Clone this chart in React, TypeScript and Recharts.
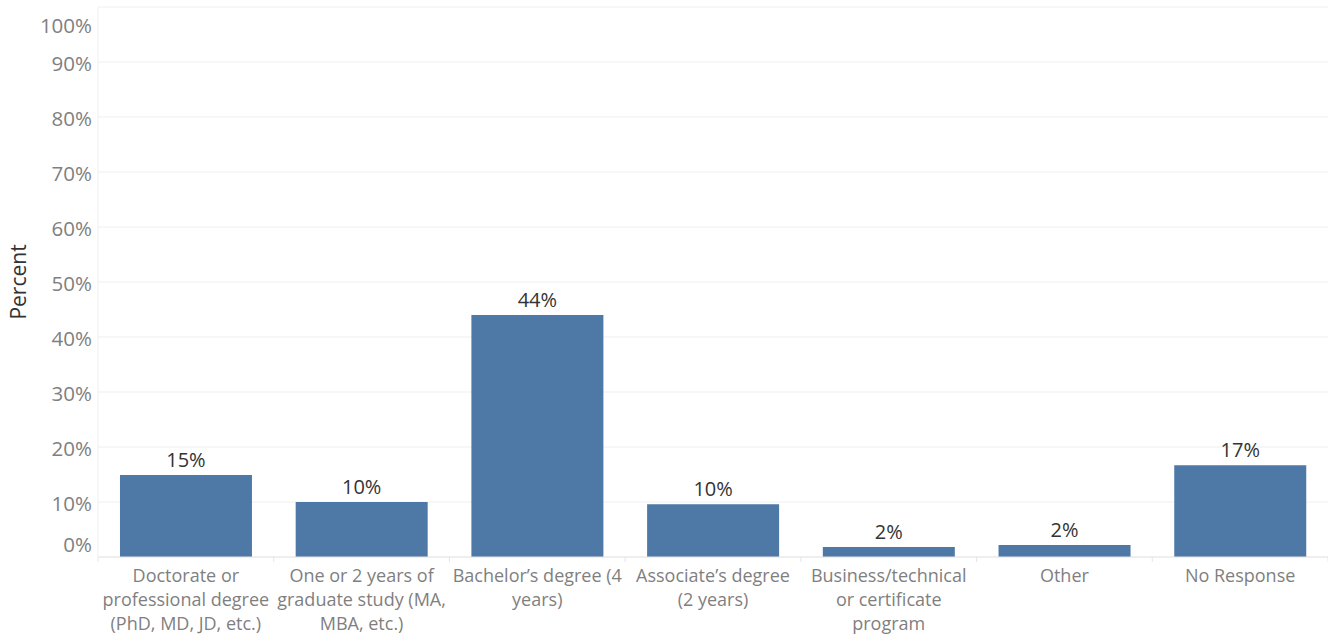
import React from 'react';
import { BarChart, Bar, XAxis, YAxis, CartesianGrid, LabelList } from 'recharts';

// categories (line breaks as in the original axis)
const CATEGORIES = [
  'Doctorate or\nprofessional degree\n(PhD, MD, JD, etc.)',
  'One or 2 years of\ngraduate study (MA,\nMBA, etc.)',
  'Bachelor\u2019s degree (4\nyears)',
  'Associate\u2019s degree\n(2 years)',
  'Business/technical\nor certificate\nprogram',
  'Other',
  'No Response',
];
const PERCENTS = [14.9, 10.0, 44.0, 9.6, 1.8, 2.2, 16.7];
const Y_TICKS = [0, 10, 20, 30, 40, 50, 60, 70, 80, 90, 100];

const data = CATEGORIES.map((name, i) => ({ name, value: PERCENTS[i] }));

const FONT = '"Open Sans", "Noto Sans", sans-serif';

const XTick = (props: any) => {
  const { x, y, payload } = props;
  const lines: string[] = String(payload.value).split('\n');
  const half = payload.offset || 0;
  const top = y - 8;
  return (
    <g>
      <line x1={x - half} x2={x - half} y1={top} y2={top + 5} stroke="#e6e6e6" />
      {props.index === CATEGORIES.length - 1 && (
        <line x1={x + half} x2={x + half} y1={top} y2={top + 5} stroke="#e6e6e6" />
      )}
      <text x={x} y={top + 25} textAnchor="middle" fill="#7f7f7f" fontSize={18} fontFamily={FONT}>
        {lines.map((l, i) => (
          <tspan key={i} x={x} y={top + 25 + i * 24}>
            {l}
          </tspan>
        ))}
      </text>
    </g>
  );
};

const YTick = (props: any) => {
  const { x, y, payload } = props;
  let shift = 2;
  if (payload.value === 100) shift = 17;
  if (payload.value === 0) shift = -12;
  return (
    <text x={x} y={y + shift} dy="0.355em" textAnchor="end" fill="#7f7f7f" fontSize={20.5} fontFamily={FONT}>
      {payload.value}%
    </text>
  );
};

const YLabel = (props: any) => {
  const vb = props.viewBox;
  const cx = vb.x + 18;
  const cy = vb.y + vb.height / 2;
  return (
    <text
      x={cx}
      y={cy}
      transform={`rotate(-90, ${cx}, ${cy})`}
      textAnchor="middle"
      dominantBaseline="central"
      fill="#333"
      fontSize={21}
      fontFamily={FONT}
    >
      Percent
    </text>
  );
};

export default function App() {
  return (
    <div style={{ position: 'absolute', left: 0, top: 0, width: 1328, height: 637, background: '#fff', fontFamily: FONT }}>
      <BarChart
        width={1328}
        height={637}
        data={data}
        margin={{ top: 7, right: 0, left: 0, bottom: 0 }}
        barCategoryGap="12.5%"
      >
        <CartesianGrid vertical={false} stroke="#efefef" />
        <XAxis
          dataKey="name"
          interval={0}
          height={80}
          tick={<XTick />}
          tickLine={false}
          axisLine={{ stroke: '#e6e6e6' }}
        />
        <YAxis
          width={98}
          domain={[0, 100]}
          ticks={Y_TICKS}
          tickSize={0}
          tickMargin={6}
          tick={<YTick />}
          axisLine={{ stroke: '#f0f0f0' }}
          label={<YLabel />}
        />
        <Bar dataKey="value" fill="#4e79a7" isAnimationActive={false}>
          <LabelList
            dataKey="value"
            position="top"
            offset={8}
            formatter={(v: any) => `${Math.round(Number(v))}%`}
            fill="#333"
            fontSize={20}
            fontFamily={FONT}
          />
        </Bar>
      </BarChart>
    </div>
  );
}
